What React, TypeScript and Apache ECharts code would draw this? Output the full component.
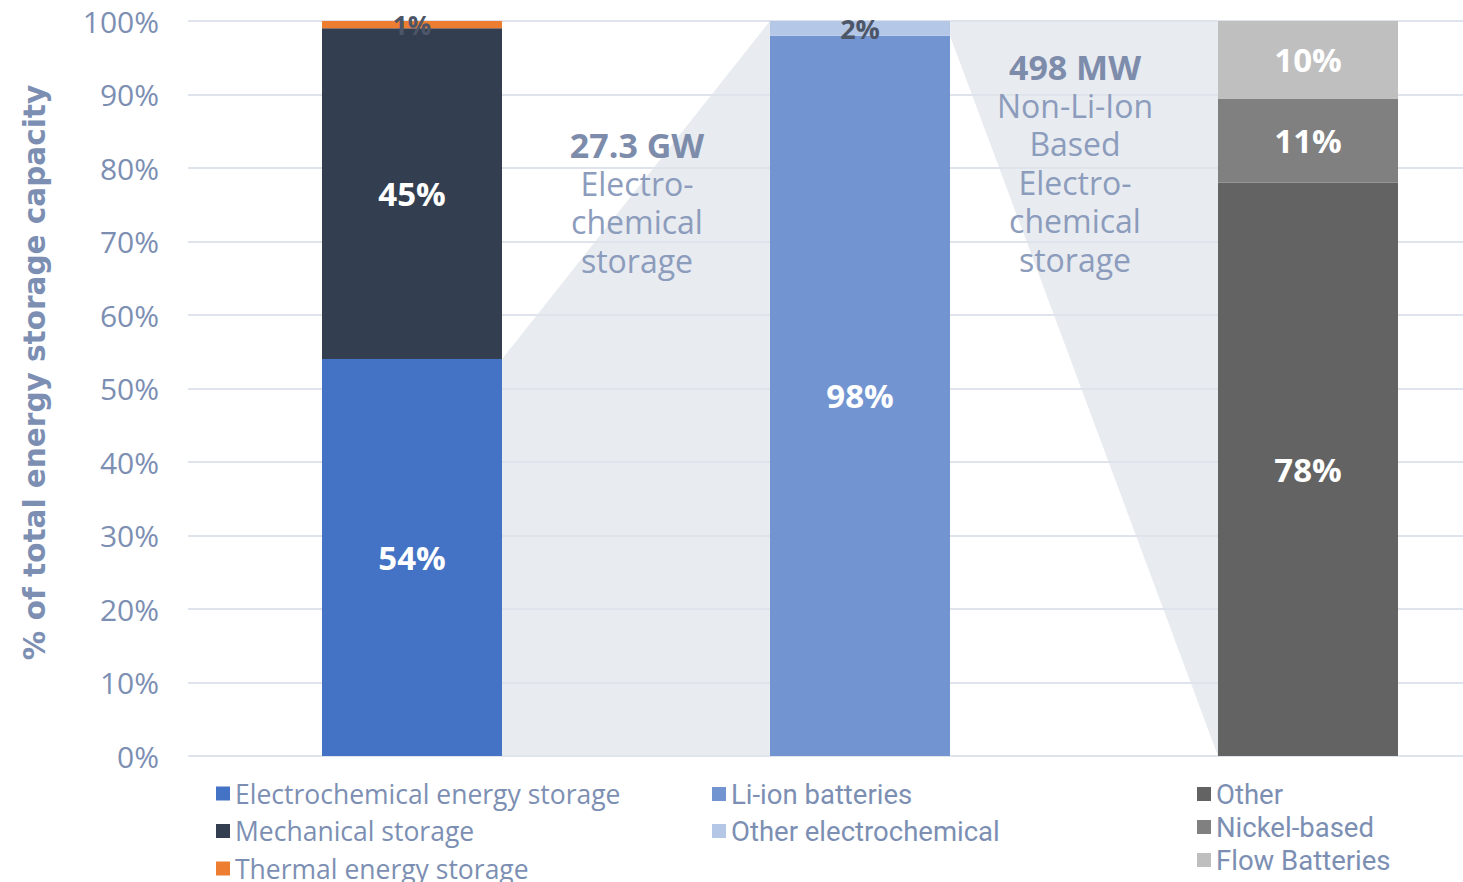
import React, { useEffect, useRef } from "react";
import * as echarts from "echarts";

const categories = ["All storage", "Electrochemical", "Non-Li-Ion"];
const yTicks = [0, 10, 20, 30, 40, 50, 60, 70, 80, 90, 100];

const electrochemical = [54, null, null];
const mechanical = [45, null, null];
const thermal = [1, null, null];
const liIon = [null, 98, null];
const otherElectro = [null, 2, null];
const otherNonLi = [null, null, 78];
const nickelBased = [null, null, 11.4];
const flowBatteries = [null, null, 10.6];

const electrochemicalLabels = ["54%", "", ""];
const mechanicalLabels = ["45%", "", ""];
const thermalLabels = ["1%", "", ""];
const liIonLabels = ["", "98%", ""];
const otherElectroLabels = ["", "2%", ""];
const otherNonLiLabels = ["", "", "78%"];
const nickelLabels = ["", "", "11%"];
const flowLabels = ["", "", "10%"];

// connectors: from bar index (right side) range -> to bar index (left side) range
const connectors = [
  { from: 0, fromLow: 0, fromHigh: 54, to: 1, toLow: 0, toHigh: 100 },
  { from: 1, fromLow: 98, fromHigh: 100, to: 2, toLow: 0, toHigh: 100 },
];

const annotation1Title = "27.3 GW";
const annotation1Lines = ["Electro-", "chemical", "storage"];
const annotation2Title = "498 MW";
const annotation2Lines = ["Non-Li-Ion", "Based", "Electro-", "chemical", "storage"];

const BAR_W = 180;
const AXIS_COLOR = "#7c8fb3";
const FONT = "'Open Sans', 'DejaVu Sans', sans-serif";

export default function App() {
  const ref = useRef<HTMLDivElement>(null);
  useEffect(() => {
    if (!ref.current) return;
    const chart = echarts.init(ref.current, undefined, { renderer: "svg" });

    const mkBar = (name: string, data: (number | null)[], labels: string[], color: string, labelColor = "#ffffff", labelSize = 33) => ({
      name,
      type: "bar",
      stack: "total",
      barWidth: BAR_W,
      data: data.map((v) => (v == null ? "-" : v)),
      itemStyle: { color },
      z: 3,
      label: {
        show: true,
        position: "inside",
        color: labelColor,
        fontFamily: FONT,
        fontWeight: "bold",
        fontSize: labelSize,
        formatter: (p: any) => labels[p.dataIndex] || "",
      },
    });

    const annotation = (x: number, top: number, title: string, lines: string[]) => ({
      type: "text",
      x,
      y: top,
      z: 10,
      style: {
        text: `{t|${title}}\n` + lines.map((l) => `{n|${l}}`).join("\n"),
        align: "center",
        verticalAlign: "top",
        rich: {
          t: { fill: "#7d8cab", fontFamily: FONT, fontWeight: "bold", fontSize: 34, lineHeight: 39, align: "center" },
          n: { fill: "#8c9cbc", fontFamily: FONT, fontSize: 32, lineHeight: 38.5, align: "center" },
        },
      },
    });

    const legendBase = {
      orient: "vertical",
      icon: "rect",
      itemWidth: 14,
      itemHeight: 14,
      padding: 0,
      selectedMode: false,
    };

    chart.setOption({
      animation: false,
      backgroundColor: "#ffffff",
      grid: { left: 188, top: 21, bottom: 126, right: -69, outerBoundsMode: "none", containLabel: false },
      legend: [
        {
          ...legendBase,
          left: 216,
          top: 780,
          itemGap: 10.5,
          textStyle: { color: AXIS_COLOR, fontFamily: FONT, fontSize: 26.5, lineHeight: 26 },
          data: ["Electrochemical energy storage", "Mechanical storage", "Thermal energy storage"],
        },
        {
          ...legendBase,
          left: 712,
          top: 780,
          itemGap: 9,
          textStyle: { color: AXIS_COLOR, fontFamily: "Roboto, sans-serif", fontSize: 27.5, lineHeight: 26 },
          data: ["Li-ion batteries", "Other electrochemical"],
        },
        {
          ...legendBase,
          left: 1197,
          top: 780,
          itemGap: 5,
          textStyle: { color: AXIS_COLOR, fontFamily: "Roboto, sans-serif", fontSize: 27.5, lineHeight: 26 },
          data: ["Other", "Nickel-based", "Flow Batteries"],
        },
      ],
      xAxis: {
        type: "category",
        data: categories,
        axisLine: { show: false },
        axisTick: { show: false },
        axisLabel: { show: false },
      },
      yAxis: {
        type: "value",
        min: 0,
        max: 100,
        interval: 10,
        name: "% of total energy storage capacity",
        nameLocation: "middle",
        nameGap: 138,
        nameTextStyle: {
          color: AXIS_COLOR,
          fontFamily: "'DejaVu Sans', sans-serif",
          fontWeight: "bold",
          fontSize: 29.5,
          padding: [0, 0, 0, 32],
        },
        axisLine: { show: false },
        axisTick: { show: false },
        axisLabel: {
          color: AXIS_COLOR,
          fontFamily: FONT,
          fontSize: 30,
          margin: 29,
          formatter: (v: number) => (yTicks.includes(v) ? `${v}%` : ""),
        },
        splitLine: { lineStyle: { color: "#dfe3eb", width: 2 } },
      },
      series: [
        {
          type: "custom",
          silent: true,
          z: -1,
          clip: false,
          data: connectors.map((c) => [c.from, c.fromHigh]),
          renderItem: (params: any, api: any) => {
            const c = connectors[params.dataIndex];
            const half = BAR_W / 2;
            const fx = api.coord([c.from, 0])[0] + half;
            const tx = api.coord([c.to, 0])[0] - half;
            const y = (v: number) => api.coord([0, v])[1];
            return {
              type: "polygon",
              shape: {
                points: [
                  [fx, y(c.fromHigh)],
                  [tx, y(c.toHigh)],
                  [tx, y(c.toLow)],
                  [fx, y(c.fromLow)],
                ],
              },
              style: { fill: "#e8ebf0" },
            };
          },
        },
        mkBar("Electrochemical energy storage", electrochemical, electrochemicalLabels, "#4472c4"),
        mkBar("Mechanical storage", mechanical, mechanicalLabels, "#333f50"),
        mkBar("Thermal energy storage", thermal, thermalLabels, "#ed7d31", "#4d5668", 26),
        mkBar("Li-ion batteries", liIon, liIonLabels, "#7295d2"),
        mkBar("Other electrochemical", otherElectro, otherElectroLabels, "#b4c7e7", "#4d5668", 27),
        mkBar("Other", otherNonLi, otherNonLiLabels, "#636363"),
        mkBar("Nickel-based", nickelBased, nickelLabels, "#808080"),
        mkBar("Flow Batteries", flowBatteries, flowLabels, "#bfbfbf"),
      ],
      graphic: [
        annotation(637, 125, annotation1Title, annotation1Lines),
        annotation(1075, 47, annotation2Title, annotation2Lines),
      ],
    });

    return () => chart.dispose();
  }, []);

  return (
    <div
      ref={ref}
      style={{ position: "absolute", left: 0, top: 0, width: 1463, height: 882, overflow: "hidden" }}
    />
  );
}
